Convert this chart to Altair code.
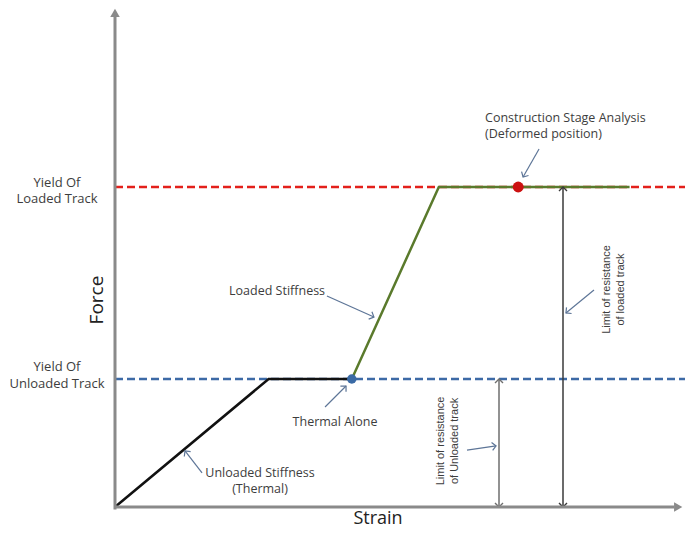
import math
import altair as alt
import pandas as pd

# ---------------- data (schematic units: strain, force) ----------------
unloaded_strain = [0.0, 1.20, 1.85]
unloaded_force = [0.0, 1.0, 1.0]
loaded_strain = [1.85, 2.53, 4.02]
loaded_force = [1.0, 2.5, 2.5]

yield_levels = [2.5, 1.0]            # loaded, unloaded yield force
thermal_alone = [1.85, 1.0]          # strain, force
csa_point = [3.15, 2.5]              # construction stage analysis point

limit_strain = [3.0, 3.5]            # double arrows: unloaded / loaded resistance
limit_force = [1.0, 2.5]

# annotation arrows: start -> end
ann_x1 = [3.313, 1.656, 1.641, 0.680, 2.750, 3.742]
ann_y1 = [2.797, 1.648, 0.781, 0.266, 0.445, 1.695]
ann_x2 = [3.188, 2.023, 1.805, 0.547, 2.977, 3.523]
ann_y2 = [2.578, 1.484, 0.945, 0.438, 0.477, 1.516]

# text anchors refer to the first line of each label
side_labels = ["Yield Of\nLoaded Track", "Yield Of\nUnloaded Track"]
side_label_x = [-0.453, -0.453]
side_label_y = [2.535, 1.09]

note_labels = ["Loaded Stiffness", "Thermal Alone", "Unloaded Stiffness\n(Thermal)"]
note_x = [1.266, 1.719, 1.133]
note_y = [1.6875, 0.664, 0.266]

csa_label = "Construction Stage Analysis\n(Deformed position)"
csa_label_pos = [2.891, 3.039]

limit_labels = ["Limit of resistance\nof Unloaded track", "Limit of resistance\nof loaded track"]
limit_label_x = [2.547, 3.844]
limit_label_y = [0.516, 1.699]

axis_top = 3.86
axis_right = 4.40

# ---------------- layout ----------------
PX = 128.0
W, H = 677, 520
X_DOMAIN = [-107 / PX, (W - 107) / PX]
Y_DOMAIN = [-(H - 499) / PX, 499 / PX]
xs = alt.Scale(domain=X_DOMAIN, nice=False, zero=False)
ys = alt.Scale(domain=Y_DOMAIN, nice=False, zero=False)
CHEVRON = "M-1,1L0,0L1,1"


def X(f="s"):
    return alt.X(f"{f}:Q", scale=xs, axis=None)


def Y(f="f"):
    return alt.Y(f"{f}:Q", scale=ys, axis=None)


def ang(dx, dy):
    return math.degrees(math.atan2(dx, dy)) % 360


layers = []

# yield dashed lines
ydf = pd.DataFrame({"s": [0.0], "s2": [X_DOMAIN[1]], "f": [yield_levels[0]]})
layers.append(alt.Chart(ydf).mark_rule(color="#e3201b", strokeWidth=2.5, strokeDash=[8, 4]).encode(
    x=X(), x2="s2:Q", y=Y()))
ydf2 = pd.DataFrame({"s": [0.0], "s2": [X_DOMAIN[1]], "f": [yield_levels[1]]})
layers.append(alt.Chart(ydf2).mark_rule(color="#3d6aa6", strokeWidth=2.5, strokeDash=[8, 4]).encode(
    x=X(), x2="s2:Q", y=Y()))

# stiffness curves
udf = pd.DataFrame({"s": unloaded_strain, "f": unloaded_force, "o": range(3)})
layers.append(alt.Chart(udf).mark_line(color="#111111", strokeWidth=2.5).encode(
    x=X(), y=Y(), order="o:Q"))
ldf = pd.DataFrame({"s": loaded_strain, "f": loaded_force, "o": range(3)})
layers.append(alt.Chart(ldf).mark_line(color="#5a7a2c", strokeWidth=2.5).encode(
    x=X(), y=Y(), order="o:Q"))

# limit double arrows
limit_colors = ["#6e6e6e", "#3a3a3a"]
for i in range(2):
    d = pd.DataFrame({"s": [limit_strain[i]], "f": [0.0], "f2": [limit_force[i]]})
    layers.append(alt.Chart(d).mark_rule(color=limit_colors[i], strokeWidth=1.5).encode(
        x=X(), y=Y(), y2="f2:Q"))
    h = pd.DataFrame({"s": [limit_strain[i], limit_strain[i]], "f": [limit_force[i], 0.0],
                      "a": [0.0, 180.0]})
    layers.append(alt.Chart(h).mark_point(shape=CHEVRON, filled=False, size=64,
                                          color=limit_colors[i], strokeWidth=1.4, opacity=1).encode(
        x=X(), y=Y(), angle=alt.Angle("a:Q", scale=None)))

# axes with arrow heads
ax = pd.DataFrame({"s": [0.0], "f": [-0.02], "f2": [axis_top - 0.03]})
layers.append(alt.Chart(ax).mark_rule(color="#8a8a8a", strokeWidth=3).encode(x=X(), y=Y(), y2="f2:Q"))
ax2 = pd.DataFrame({"s": [0.0], "s2": [axis_right - 0.03], "f": [0.0]})
layers.append(alt.Chart(ax2).mark_rule(color="#8a8a8a", strokeWidth=3).encode(x=X(), x2="s2:Q", y=Y()))
heads = pd.DataFrame({"s": [0.0, axis_right], "f": [axis_top, 0.0], "a": [0.0, 90.0]})
layers.append(alt.Chart(heads).mark_point(shape="triangle-up", filled=True, size=90,
                                          color="#8a8a8a", opacity=1).encode(
    x=X(), y=Y(), angle=alt.Angle("a:Q", scale=None)))

# key points
layers.append(alt.Chart(pd.DataFrame({"s": [csa_point[0]], "f": [csa_point[1]]})).mark_point(
    filled=True, size=120, color="#cc1111", opacity=1).encode(x=X(), y=Y()))
layers.append(alt.Chart(pd.DataFrame({"s": [thermal_alone[0]], "f": [thermal_alone[1]]})).mark_point(
    filled=True, size=90, color="#3a6aa5", opacity=1).encode(x=X(), y=Y()))

# annotation arrows
adf = pd.DataFrame({"s": ann_x1, "f": ann_y1, "s2": ann_x2, "f2": ann_y2})
layers.append(alt.Chart(adf).mark_rule(color="#5d7597", strokeWidth=1.2).encode(
    x=X(), y=Y(), x2="s2:Q", y2="f2:Q"))
hdf = pd.DataFrame({"s": ann_x2, "f": ann_y2,
                    "a": [ang(x2 - x1, y2 - y1) for x1, y1, x2, y2 in zip(ann_x1, ann_y1, ann_x2, ann_y2)]})
layers.append(alt.Chart(hdf).mark_point(shape=CHEVRON, filled=False, size=64, color="#5d7597",
                                        strokeWidth=1.2, opacity=1).encode(
    x=X(), y=Y(), angle=alt.Angle("a:Q", scale=None)))

# texts
TXT = "#3d3d3d"
sdf = pd.DataFrame({"s": side_label_x, "f": side_label_y, "t": side_labels})
layers.append(alt.Chart(sdf).mark_text(font="Open Sans", fontSize=13, color=TXT, align="center",
                                       baseline="middle", lineBreak="\n", lineHeight=16.5).encode(
    x=X(), y=Y(), text="t:N"))
ndf = pd.DataFrame({"s": note_x, "f": note_y, "t": note_labels})
layers.append(alt.Chart(ndf).mark_text(font="Open Sans", fontSize=12.5, color=TXT, align="center",
                                       baseline="middle", lineBreak="\n", lineHeight=16).encode(
    x=X(), y=Y(), text="t:N"))
cdf = pd.DataFrame({"s": [csa_label_pos[0]], "f": [csa_label_pos[1]], "t": [csa_label]})
layers.append(alt.Chart(cdf).mark_text(font="Open Sans", fontSize=12.5, color=TXT, align="left",
                                       baseline="middle", lineBreak="\n", lineHeight=15.5).encode(
    x=X(), y=Y(), text="t:N"))
rdf = pd.DataFrame({"s": limit_label_x, "f": limit_label_y, "t": limit_labels})
layers.append(alt.Chart(rdf).mark_text(font="Liberation Sans", fontSize=11, color=TXT, align="center",
                                       baseline="middle", lineBreak="\n", lineHeight=13.5,
                                       angle=270).encode(
    x=X(), y=Y(), text="t:N"))

# axis titles
layers.append(alt.Chart(pd.DataFrame({"s": [-0.141], "f": [1.617], "t": ["Force"]})).mark_text(
    font="Open Sans", fontSize=19, color="#222222", angle=270, align="center", baseline="middle").encode(
    x=X(), y=Y(), text="t:N"))
layers.append(alt.Chart(pd.DataFrame({"s": [2.055], "f": [-0.094], "t": ["Strain"]})).mark_text(
    font="Open Sans", fontSize=18, color="#222222", align="center", baseline="middle").encode(
    x=X(), y=Y(), text="t:N"))

chart = alt.layer(*layers).properties(
    width=W, height=H, padding=0,
    autosize=alt.AutoSizeParams(type="none"),
    background="white",
).configure_view(strokeWidth=0)

chart.save("out.html", embed_options={"renderer": "svg", "actions": False})
